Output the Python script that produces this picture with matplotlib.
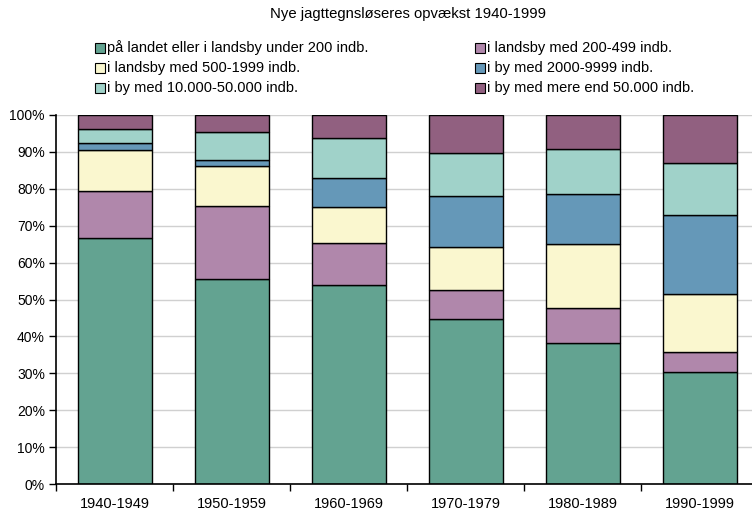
import matplotlib
matplotlib.use("Agg")
import matplotlib.pyplot as plt
from matplotlib.patches import Rectangle
import numpy as np

plt.rcParams['font.family'] = ['Liberation Sans', 'DejaVu Sans']

categories = ["1940-1949", "1950-1959", "1960-1969", "1970-1979", "1980-1989", "1990-1999"]
series_names = [
    "på landet eller i landsby under 200 indb.",
    "i landsby med 200-499 indb.",
    "i landsby med 500-1999 indb.",
    "i by med 2000-9999 indb.",
    "i by med 10.000-50.000 indb.",
    "i by med mere end 50.000 indb.",
]
landet_u200 = [66.6, 55.6, 53.9, 44.6, 38.1, 30.4]
landsby_200_499 = [12.8, 19.8, 11.3, 8.1, 9.7, 5.5]
landsby_500_1999 = [11.2, 10.7, 9.8, 11.4, 17.2, 15.5]
by_2000_9999 = [1.9, 1.6, 7.8, 14.0, 13.6, 21.5]
by_10000_50000 = [3.6, 7.6, 11.0, 11.5, 12.1, 14.0]
by_over_50000 = [3.9, 4.7, 6.2, 10.4, 9.3, 13.1]

colors = ["#63a391", "#b087ab", "#faf7cf", "#6598b8", "#a0d2c9", "#916080"]
series = [landet_u200, landsby_200_499, landsby_500_1999, by_2000_9999, by_10000_50000, by_over_50000]

W, H = 752, 512
fig = plt.figure(figsize=(W / 100, H / 100), dpi=100)
ax_left, ax_right, ax_top, ax_bot = 56, 758, 115, 484
ax = fig.add_axes([ax_left / W, (H - ax_bot) / H, (ax_right - ax_left) / W, (ax_bot - ax_top) / H])

x = np.arange(len(categories)) + 0.005
bottom = np.zeros(len(categories))
for vals, c in zip(series, colors):
    ax.bar(x, vals, bottom=bottom, width=0.63, color=c, edgecolor="black", linewidth=1.0, zorder=3)
    bottom += np.array(vals)

ax.set_xlim(-0.5, len(categories) - 0.5)
ax.set_ylim(0, 100)
ax.set_yticks(np.arange(0, 101, 10))
ax.set_yticklabels([f"{v}%" for v in range(0, 101, 10)], fontsize=10)
ax.yaxis.grid(True, color="#d0d0d0", linewidth=1.0, zorder=0)
ax.set_xticks(np.arange(len(categories)))
ax.set_xticklabels(categories, fontsize=10.5)
ax.tick_params(axis="x", length=0, pad=9)
ax.set_xticks(np.arange(len(categories) + 1) - 0.5, minor=True)
ax.tick_params(axis="x", which="minor", length=5, width=1, direction="out")
ax.tick_params(axis="y", length=5, width=1, direction="out", pad=3)
for s in ["top", "right"]:
    ax.spines[s].set_visible(False)
ax.spines["left"].set_linewidth(1.2)
ax.spines["bottom"].set_linewidth(1.2)
ax.spines["left"].set_zorder(4)
ax.spines["bottom"].set_zorder(4)

fig.text(408 / W, 1 - 14 / H, "Nye jagttegnsløseres opvækst 1940-1999", ha="center", va="center", fontsize=10.75)

# legend (row-wise layout as in reference)
col_x = [95, 475]
row_y = [48, 68, 88]
for i in range(len(series_names)):
    r, cidx = divmod(i, 2)
    px, py = col_x[cidx], row_y[r]
    fig.patches.append(Rectangle((px / W, 1 - (py + 5) / H), 10 / W, 10 / H,
                                 transform=fig.transFigure, facecolor=colors[i],
                                 edgecolor="black", linewidth=0.8))
    fig.text((px + 12) / W, 1 - py / H, series_names[i], ha="left", va="center", fontsize=10.5)

fig.savefig("out.png", dpi=100)
